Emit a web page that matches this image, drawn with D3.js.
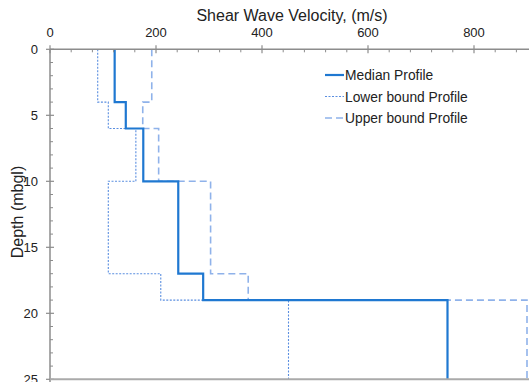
<!DOCTYPE html>
<html>
<head>
<meta charset="utf-8">
<script src="https://cdn.jsdelivr.net/npm/d3@7"></script>
<style>
  body { margin: 0; background: #fff; }
  svg { display: block; font-family: "Liberation Sans", Arial, sans-serif; }
</style>
</head>
<body>
<svg id="chart" width="529" height="382"></svg>
<script>
// Layer boundaries (depth, m below ground level)
const depthTops    = [0, 4, 6, 10, 17, 19];
const depthBottoms = [4, 6, 10, 17, 19, 25];

// Shear wave velocity per layer (m/s)
const medianVs = [122, 143, 176, 242, 289, 750];
const lowerVs  = [90, 110, 162, 110, 209, 450];
const upperVs  = [192, 175, 205, 303, 374, 900];

const xTicks = [0, 200, 400, 600, 800];
const yTicks = [0, 5, 10, 15, 20, 25];

const seriesNames = ["Median Profile", "Lower bound Profile", "Upper bound Profile"];

const svg = d3.select("#chart");
const x = d3.scaleLinear().domain([0, 900]).range([50, 527]);
const y = d3.scaleLinear().domain([0, 25]).range([49.3, 379.3]);

const axisColor = "#8c8c8c";

// Build a step path from layered values
function stepPoints(vals) {
  const pts = [];
  vals.forEach((v, i) => {
    pts.push([v, depthTops[i]]);
    pts.push([v, depthBottoms[i]]);
  });
  return pts;
}
const line = d3.line().x(d => x(d[0])).y(d => y(d[1]));

const styles = [
  { data: medianVs, color: "#1f78d1", width: 2.2, dash: null },
  { data: lowerVs,  color: "#5a8ee0", width: 1.1, dash: "2,1.5" },
  { data: upperVs,  color: "#8fb2ea", width: 1.6, dash: "7,4" }
];

// draw lower and upper first, median on top
[styles[2], styles[1], styles[0]].forEach(s => {
  svg.append("path")
    .attr("d", line(stepPoints(s.data)))
    .attr("fill", "none")
    .attr("stroke", s.color)
    .attr("stroke-width", s.width)
    .attr("stroke-dasharray", s.dash);
});

// X axis (top)
const xMinor = d3.range(0, 901, 40).filter(v => v % 200 !== 0);
const xAxisG = svg.append("g");
xAxisG.append("line").attr("x1", x(0)).attr("x2", 529).attr("y1", y(0)).attr("y2", y(0))
  .attr("stroke", axisColor).attr("stroke-width", 1.5);
xAxisG.selectAll(".xmaj").data(xTicks).join("line")
  .attr("x1", d => x(d)).attr("x2", d => x(d))
  .attr("y1", y(0) - 4).attr("y2", y(0) + 4)
  .attr("stroke", axisColor).attr("stroke-width", 1.2);
xAxisG.selectAll(".xmin").data(xMinor).join("line")
  .attr("x1", d => x(d)).attr("x2", d => x(d))
  .attr("y1", y(0)).attr("y2", y(0) + 3)
  .attr("stroke", axisColor).attr("stroke-width", 1);
xAxisG.selectAll(".xlab").data(xTicks).join("text")
  .attr("x", d => x(d)).attr("y", 37)
  .attr("text-anchor", "middle").attr("font-size", 13).attr("fill", "#222")
  .text(d => d);

// Y axis (left)
const yMinor = d3.range(0, 26, 1).filter(v => v % 5 !== 0);
const yAxisG = svg.append("g");
yAxisG.append("line").attr("x1", x(0)).attr("x2", x(0)).attr("y1", y(0)).attr("y2", 382)
  .attr("stroke", axisColor).attr("stroke-width", 1.5);
yAxisG.selectAll(".ymaj").data(yTicks).join("line")
  .attr("x1", x(0) - 4).attr("x2", x(0) + 4)
  .attr("y1", d => y(d)).attr("y2", d => y(d))
  .attr("stroke", axisColor).attr("stroke-width", 1.2);
yAxisG.selectAll(".ymin").data(yMinor).join("line")
  .attr("x1", x(0)).attr("x2", x(0) + 3)
  .attr("y1", d => y(d)).attr("y2", d => y(d))
  .attr("stroke", axisColor).attr("stroke-width", 1);
yAxisG.selectAll(".ylab").data(yTicks).join("text")
  .attr("x", 38).attr("y", d => y(d) + 4.5)
  .attr("text-anchor", "end").attr("font-size", 13).attr("fill", "#222")
  .text(d => d);
// bottom frame line
svg.append("line").attr("x1", x(0)).attr("x2", 529).attr("y1", y(25)).attr("y2", y(25))
  .attr("stroke", "#aaaaaa").attr("stroke-width", 2);

// Axis titles
svg.append("text").attr("x", 292).attr("y", 21)
  .attr("text-anchor", "middle").attr("font-size", 16).attr("fill", "#222")
  .text("Shear Wave Velocity, (m/s)");
svg.append("text")
  .attr("transform", "translate(23,212) rotate(-90)")
  .attr("text-anchor", "middle").attr("font-size", 16).attr("fill", "#222")
  .text("Depth (mbgl)");

// Legend
const legend = svg.append("g");
styles.forEach((s, i) => {
  const ly = 75 + i * 21.5;
  legend.append("line")
    .attr("x1", 325).attr("x2", 344).attr("y1", ly).attr("y2", ly)
    .attr("stroke", s.color).attr("stroke-width", s.width)
    .attr("stroke-dasharray", s.dash);
  legend.append("text")
    .attr("x", 345).attr("y", ly + 5)
    .attr("font-size", 13.8).attr("fill", "#222")
    .text(seriesNames[i]);
});
</script>
</body>
</html>
